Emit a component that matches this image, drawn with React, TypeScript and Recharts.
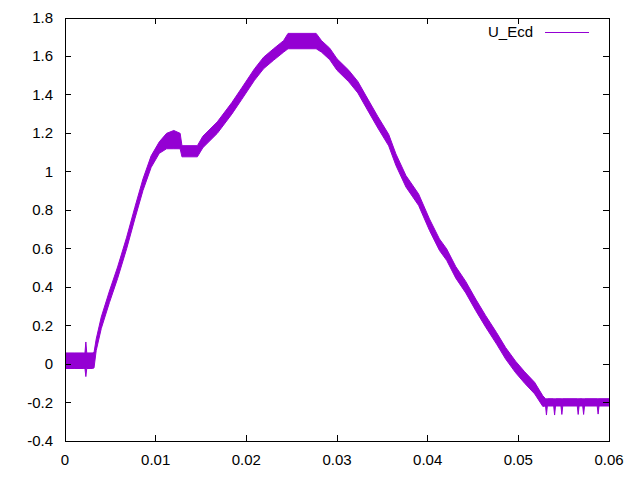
import { AreaChart, Area, XAxis, YAxis, ReferenceArea, Legend } from "recharts"

// time axis (s) and the lower / upper edge of the noisy trace (V)
const time = [
  0, 0.001, 0.002, 0.0022, 0.0023, 0.0024, 0.003, 0.0032, 0.00344, 0.004,
  0.0049, 0.0058, 0.0068, 0.0077, 0.0086, 0.0095, 0.0104, 0.0112, 0.012, 0.0127,
  0.0129, 0.0146, 0.0152, 0.0168, 0.0184, 0.0195, 0.0209, 0.0219, 0.023, 0.0241,
  0.0246, 0.0277, 0.0283, 0.0292, 0.03, 0.0313, 0.0323, 0.0332, 0.0345, 0.0357,
  0.0365, 0.0376, 0.039, 0.0402, 0.0413, 0.0421, 0.0431, 0.0442, 0.0453, 0.0464,
  0.0476, 0.0486, 0.0497, 0.0507, 0.0518, 0.0527, 0.053, 0.0531, 0.0532, 0.0539,
  0.054, 0.0541, 0.0547, 0.0548, 0.0549, 0.0565, 0.0566, 0.0567, 0.0571, 0.0572,
  0.0573, 0.0587, 0.0588, 0.0589, 0.06,
]
const lower = [
  -0.023, -0.023, -0.023, -0.023, -0.065, -0.023, -0.023, -0.02, 0.07, 0.185,
  0.32, 0.445, 0.6, 0.755, 0.903, 1.023, 1.096, 1.12, 1.12, 1.12,
  1.078, 1.078, 1.125, 1.2, 1.3, 1.377, 1.476, 1.536, 1.58, 1.622,
  1.64, 1.64, 1.622, 1.583, 1.528, 1.468, 1.41, 1.335, 1.228, 1.135,
  1.033, 0.921, 0.825, 0.695, 0.591, 0.539, 0.447, 0.37, 0.278, 0.192,
  0.104, 0.026, -0.045, -0.1, -0.155, -0.22, -0.218, -0.265, -0.218, -0.218,
  -0.265, -0.218, -0.218, -0.262, -0.218, -0.218, -0.262, -0.218, -0.218, -0.262,
  -0.218, -0.218, -0.26, -0.218, -0.218,
]
const upper = [
  0.058, 0.058, 0.058, 0.058, 0.115, 0.058, 0.058, 0.06, 0.13, 0.245,
  0.38, 0.505, 0.66, 0.815, 0.963, 1.083, 1.156, 1.2, 1.215, 1.2,
  1.136, 1.136, 1.185, 1.26, 1.36, 1.437, 1.536, 1.596, 1.64, 1.682,
  1.72, 1.72, 1.682, 1.643, 1.588, 1.528, 1.47, 1.395, 1.288, 1.195,
  1.093, 0.981, 0.885, 0.755, 0.651, 0.599, 0.507, 0.43, 0.338, 0.252,
  0.164, 0.086, 0.015, -0.04, -0.095, -0.165, -0.18, -0.18, -0.18, -0.18,
  -0.18, -0.18, -0.18, -0.18, -0.18, -0.18, -0.18, -0.18, -0.18, -0.18,
  -0.18, -0.18, -0.18, -0.18, -0.18,
]

const xTicks = [0, 0.01, 0.02, 0.03, 0.04, 0.05, 0.06]
const yTicks = [-0.4, -0.2, 0, 0.2, 0.4, 0.6, 0.8, 1, 1.2, 1.4, 1.6, 1.8]

const W = 640
const H = 480
const PLOT = { left: 65, right: 609, top: 18, bottom: 441 }
const Y_AXIS_W = 57
const X_AXIS_H = 30
const TICK = 6
const COLOR = "#9400D3"
const FONT = "'Liberation Sans', Arial, sans-serif"

const data = time.map((t, i) => ({ t, band: [lower[i], upper[i]] }))

function XTick({ x, y, payload }: any) {
  return (
    <g>
      <line x1={x} x2={x} y1={y} y2={y - TICK} stroke="#000" shapeRendering="crispEdges" />
      <line x1={x} x2={x} y1={PLOT.top} y2={PLOT.top + TICK} stroke="#000" shapeRendering="crispEdges" />
      <text x={x} y={y + 24} textAnchor="middle" fontFamily={FONT} fontSize={15} fill="#000">
        {String(payload.value)}
      </text>
    </g>
  )
}

function YTick({ x, y, payload }: any) {
  return (
    <g>
      <line x1={x} x2={x + TICK} y1={y} y2={y} stroke="#000" shapeRendering="crispEdges" />
      <line x1={PLOT.right} x2={PLOT.right - TICK} y1={y} y2={y} stroke="#000" shapeRendering="crispEdges" />
      <text x={x - 12} y={y + 5} textAnchor="end" fontFamily={FONT} fontSize={15} fill="#000">
        {String(payload.value)}
      </text>
    </g>
  )
}

function KeyBox() {
  return (
    <svg width={140} height={24}>
      <text x={57} y={17} textAnchor="end" fontFamily={FONT} fontSize={15} fill="#000">
        U_Ecd
      </text>
      <line x1={69} x2={113} y1={12.5} y2={12.5} stroke={COLOR} strokeWidth={1} />
    </svg>
  )
}

export default function App() {
  return (
    <div style={{ position: "absolute", left: 0, top: 0, background: "#fff" }}>
      <AreaChart
        width={W}
        height={H}
        data={data}
        margin={{
          top: PLOT.top,
          right: W - PLOT.right,
          bottom: H - PLOT.bottom - X_AXIS_H,
          left: PLOT.left - Y_AXIS_W,
        }}
      >
        <XAxis
          dataKey="t"
          type="number"
          domain={[0, 0.06]}
          ticks={xTicks}
          height={X_AXIS_H}
          axisLine={false}
          tickLine={false}
          tickSize={0}
          tickMargin={0}
          tick={<XTick />}
          interval={0}
        />
        <YAxis
          type="number"
          domain={[-0.4, 1.8]}
          ticks={yTicks}
          width={Y_AXIS_W}
          axisLine={false}
          tickLine={false}
          tickSize={0}
          tickMargin={0}
          tick={<YTick />}
          interval={0}
        />
        <Area
          dataKey="band"
          type="linear"
          stroke={COLOR}
          strokeWidth={1}
          fill={COLOR}
          fillOpacity={1}
          isAnimationActive={false}
          dot={false}
          activeDot={false}
        />
        <ReferenceArea
          x1={0}
          x2={0.06}
          y1={-0.4}
          y2={1.8}
          fill="none"
          stroke="#000"
          strokeWidth={1}
          shapeRendering="crispEdges"
        />
        <Legend
          layout="vertical"
          align="center"
          verticalAlign="middle"
          content={() => <KeyBox />}
          wrapperStyle={{ position: "absolute", left: 476, top: 20, width: 140, height: 24 }}
        />
      </AreaChart>
    </div>
  )
}
